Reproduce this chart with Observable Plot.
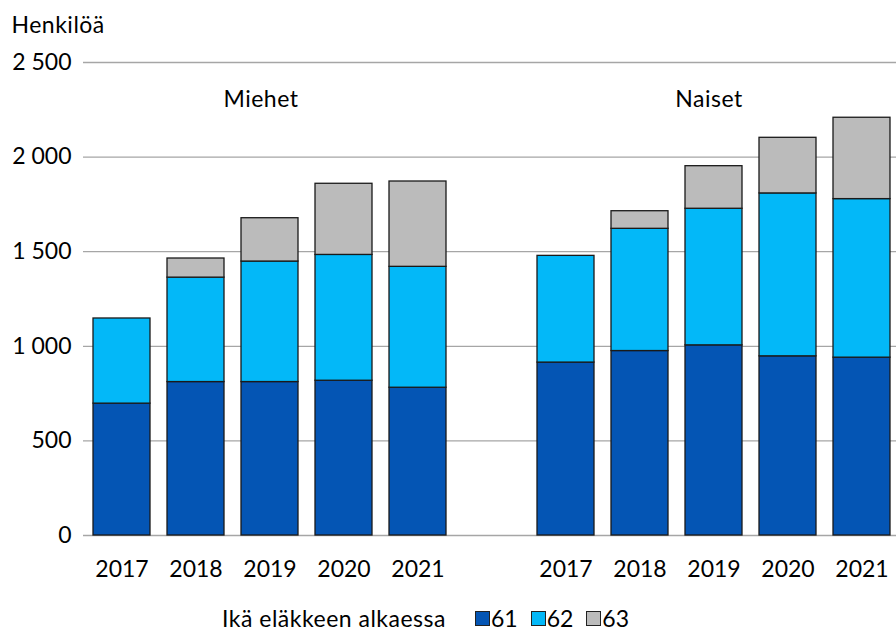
<!DOCTYPE html>
<html>
<head>
<meta charset="utf-8">
<script src="https://cdn.jsdelivr.net/npm/d3@7"></script>
<script src="https://cdn.jsdelivr.net/npm/@observablehq/plot@0.6"></script>
<style>
  html, body { margin: 0; padding: 0; background: #fff; overflow: hidden; }
  #chart { width: 896px; }
  .legend { display: flex; align-items: center; height: 28px; font-family: Lato, sans-serif; font-size: 23px; color: #000; padding-left: 222px; }
  .legend .title { margin-right: 29px; letter-spacing: 0.5px; }
  .legend .sw { width: 13px; height: 13px; border: 1px solid #222; margin-right: 1px; }
  .legend .lab { margin-right: 13px; }
  .lbl { letter-spacing: 0.5px; }
</style>
</head>
<body>
<div id="chart"></div>
<script>
const years = ["2017", "2018", "2019", "2020", "2021"];
const groups = ["Miehet", "Naiset"];
const ages = ["61", "62", "63"];
const miehet61 = [697, 811, 811, 818, 781];
const miehet62 = [450, 552, 637, 665, 639];
const miehet63 = [0, 101, 229, 376, 451];
const naiset61 = [914, 975, 1005, 947, 940];
const naiset62 = [564, 646, 722, 861, 838];
const naiset63 = [0, 93, 225, 294, 430];
const yTicks = [0, 500, 1000, 1500, 2000, 2500];
const colors = ["#0455b4", "#03b8f8", "#bbbbbb"];
const yLabel = "Henkilöä";
const legendTitle = "Ikä eläkkeen alkaessa";

const series = {
  Miehet: [miehet61, miehet62, miehet63],
  Naiset: [naiset61, naiset62, naiset63]
};
const table = [];
for (const g of groups) {
  years.forEach((yr, i) => {
    ages.forEach((a, j) => {
      const v = series[g][j][i];
      if (v > 0) table.push({key: g + " " + yr, age: a, value: v});
    });
  });
}
const xDomain = [...years.map(y => "Miehet " + y), "gap", ...years.map(y => "Naiset " + y)];
const fmt = d => d3.format(",")(d).replace(/,/g, "\u00a0");

const chart = Plot.plot({
  width: 896,
  height: 604,
  marginTop: 62,
  marginBottom: 69,
  marginLeft: 83,
  marginRight: 0,
  style: {fontFamily: "Lato, sans-serif", fontSize: "23px", color: "#000", background: "white", overflow: "visible"},
  x: {domain: xDomain, range: [83, 900], paddingInner: 0.226, paddingOuter: 0.113, axis: null},
  y: {domain: [0, 2500], axis: null},
  color: {domain: ages, range: colors},
  marks: [
    Plot.ruleY(yTicks, {stroke: "#a6a6a6", strokeWidth: 1.3}),
    Plot.barY(table, {x: "key", y: "value", fill: "age", stroke: "#1a1a1a", strokeWidth: 1.3}),
    Plot.axisX({tickSize: 0, tickPadding: 25, fontSize: 23, tickFormat: d => d === "gap" ? "" : d.split(" ")[1], label: null}),
    Plot.axisY(yTicks, {tickSize: 0, tickPadding: 12, fontSize: 23, tickFormat: fmt, label: null}),
    Plot.text([yLabel], {frameAnchor: "top-left", textAnchor: "start", lineAnchor: "bottom", dx: -72, dy: -30, fontSize: 23, className: "lbl", text: d => d}),
    Plot.text([groups[0]], {x: d => d + " 2019", frameAnchor: "top", lineAnchor: "top", dy: 28, dx: -9, fontSize: 23, className: "lbl", text: d => d}),
    Plot.text([groups[1]], {x: d => d + " 2019", frameAnchor: "top", lineAnchor: "top", dy: 28, dx: -5, fontSize: 23, className: "lbl", text: d => d})
  ]
});
document.getElementById("chart").appendChild(chart);

const legend = document.createElement("div");
legend.className = "legend";
const t = document.createElement("span");
t.className = "title";
t.textContent = legendTitle;
legend.appendChild(t);
ages.forEach((a, i) => {
  const sw = document.createElement("span");
  sw.className = "sw";
  sw.style.background = colors[i];
  legend.appendChild(sw);
  const l = document.createElement("span");
  l.className = "lab";
  l.textContent = a;
  legend.appendChild(l);
});
document.getElementById("chart").appendChild(legend);
</script>
</body>
</html>
